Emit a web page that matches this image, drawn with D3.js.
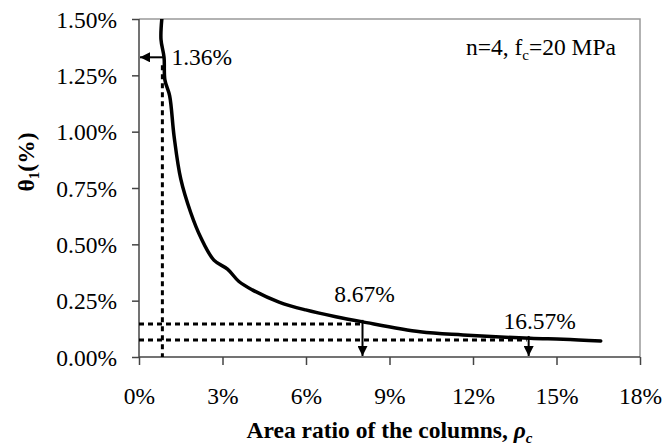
<!DOCTYPE html>
<html>
<head>
<meta charset="utf-8">
<script src="https://cdn.jsdelivr.net/npm/d3@7"></script>
<style>
  body { margin: 0; background: #fff; }
</style>
</head>
<body>
<svg id="chart" width="665" height="445"></svg>
<script>
// curve: area ratio of the columns (%) vs theta1 (%)
var rhoValues = [0.82, 0.79, 0.90, 0.93, 1.10, 1.26, 1.50, 1.86, 2.22, 2.69, 3.18, 3.59, 4.07, 5.03, 5.99, 7.07, 8.00, 10.10, 11.64, 14.05, 15.24, 16.59];
var thetaValues = [1.50, 1.41, 1.33, 1.23, 1.16, 0.98, 0.79, 0.64, 0.53, 0.43, 0.39, 0.335, 0.298, 0.244, 0.209, 0.179, 0.157, 0.112, 0.098, 0.083, 0.079, 0.071];

var xTicks = [0, 3, 6, 9, 12, 15, 18];
var yTicks = [0, 0.25, 0.5, 0.75, 1.0, 1.25, 1.5];

// annotation points
var markLeft = { rho: 0.84, theta: 1.33, label: "1.36%" };
var markDown = [
  { rho: 8.03, theta: 0.147, label: "8.67%" },
  { rho: 14.0, theta: 0.0756, label: "16.57%" }
];

var margin = { top: 19, left: 139 },
  width = 501,
  height = 338;

var serif = "Liberation Serif";

var svg = d3.select("#chart").attr("font-family", serif);

var x = d3.scaleLinear().domain([0, 18]).range([0, width]);
var y = d3.scaleLinear().domain([0, 1.5]).range([height, 0]);

var defs = svg.append("defs");
defs.append("clipPath").attr("id", "clip")
  .append("rect").attr("width", width).attr("height", height);
defs.append("marker")
  .attr("id", "head")
  .attr("viewBox", "0 0 10 10")
  .attr("refX", 10).attr("refY", 5)
  .attr("markerWidth", 5).attr("markerHeight", 5)
  .attr("markerUnits", "strokeWidth")
  .attr("orient", "auto")
  .append("path").attr("d", "M0,0L10,5L0,10z").attr("fill", "#000");

var g = svg.append("g").attr("transform", `translate(${margin.left},${margin.top})`);

// frame top and right
g.append("path")
  .attr("d", `M0,0H${width}V${height}`)
  .attr("fill", "none").attr("stroke", "#999").attr("stroke-width", 1.5);

var fmtY = d => d.toFixed(2) + "%";

var xAxis = g.append("g")
  .attr("transform", `translate(0,${height})`)
  .call(d3.axisBottom(x).tickValues(xTicks).tickSize(8).tickPadding(22).tickFormat(d => d + "%"));
var yAxis = g.append("g")
  .call(d3.axisLeft(y).tickValues(yTicks).tickSize(7).tickPadding(15).tickFormat(fmtY));

[xAxis, yAxis].forEach(a => {
  a.attr("font-family", serif).attr("font-size", 23.5);
  a.select(".domain").attr("stroke", "#444").attr("stroke-width", 1.5);
  a.selectAll(".tick line").attr("stroke", "#444").attr("stroke-width", 1.5);
  a.selectAll("text").attr("fill", "#000");
});
xAxis.select(".domain").attr("d", `M0,0H${width}`);
yAxis.select(".domain").attr("d", `M0,${height}V0`);
yAxis.selectAll("text").attr("dy", "0.34em");

// dotted guides
function guide(x1, y1, x2, y2) {
  g.append("line").attr("x1", x1).attr("y1", y1).attr("x2", x2).attr("y2", y2)
    .attr("stroke", "#000").attr("stroke-width", 3).attr("stroke-dasharray", "5,4");
}
guide(x(markLeft.rho), y(markLeft.theta) + 8, x(markLeft.rho), height);
markDown.forEach(m => guide(0, y(m.theta), x(m.rho) - 2, y(m.theta)));

// curve
var line = d3.line().x((d, i) => x(rhoValues[i])).y(d => y(d)).curve(d3.curveCatmullRom.alpha(0.5));
g.append("path")
  .datum(thetaValues)
  .attr("clip-path", "url(#clip)")
  .attr("d", line)
  .attr("fill", "none").attr("stroke", "#000").attr("stroke-width", 3.5)
  .attr("stroke-linejoin", "round").attr("stroke-linecap", "round");

// arrows
g.append("line")
  .attr("x1", x(markLeft.rho) + 2).attr("y1", y(markLeft.theta))
  .attr("x2", 1).attr("y2", y(markLeft.theta))
  .attr("stroke", "#000").attr("stroke-width", 2).attr("marker-end", "url(#head)");
g.append("text")
  .attr("x", x(markLeft.rho) + 9).attr("y", y(markLeft.theta) + 8)
  .attr("font-size", 23.5).text(markLeft.label);

markDown.forEach(m => {
  g.append("line")
    .attr("x1", x(m.rho)).attr("y1", y(m.theta) - 4)
    .attr("x2", x(m.rho)).attr("y2", height - 1)
    .attr("stroke", "#000").attr("stroke-width", 2).attr("marker-end", "url(#head)");
});
g.append("text").attr("x", x(markDown[0].rho) + 2).attr("y", 283)
  .attr("text-anchor", "middle").attr("font-size", 23.5).text(markDown[0].label);
g.append("text").attr("x", x(markDown[1].rho) + 11).attr("y", 310)
  .attr("text-anchor", "middle").attr("font-size", 23.5).text(markDown[1].label);

// annotation top right
var ann = g.append("text").attr("x", width - 24).attr("y", 36)
  .attr("text-anchor", "end").attr("font-size", 23.5);
ann.append("tspan").text("n=4, f");
ann.append("tspan").attr("font-size", 15).attr("dy", 5).text("c");
ann.append("tspan").attr("dy", -5).text("=20 MPa");

// axis titles
var xt = svg.append("text")
  .attr("x", margin.left + width / 2).attr("y", 438)
  .attr("text-anchor", "middle").attr("font-size", 23.5).attr("font-weight", "bold");
xt.append("tspan").text("Area ratio of the columns, ");
xt.append("tspan").attr("font-style", "italic").text("ρ");
xt.append("tspan").attr("font-style", "italic").attr("font-size", 15).attr("dy", 5).text("c");

var yt = svg.append("text")
  .attr("transform", "translate(34,162) rotate(-90)")
  .attr("text-anchor", "middle").attr("font-size", 23.5).attr("font-weight", "bold");
yt.append("tspan").text("θ");
yt.append("tspan").attr("font-size", 15).attr("dy", 5).text("1");
yt.append("tspan").attr("dy", -5).text("(%)");
</script>
</body>
</html>
